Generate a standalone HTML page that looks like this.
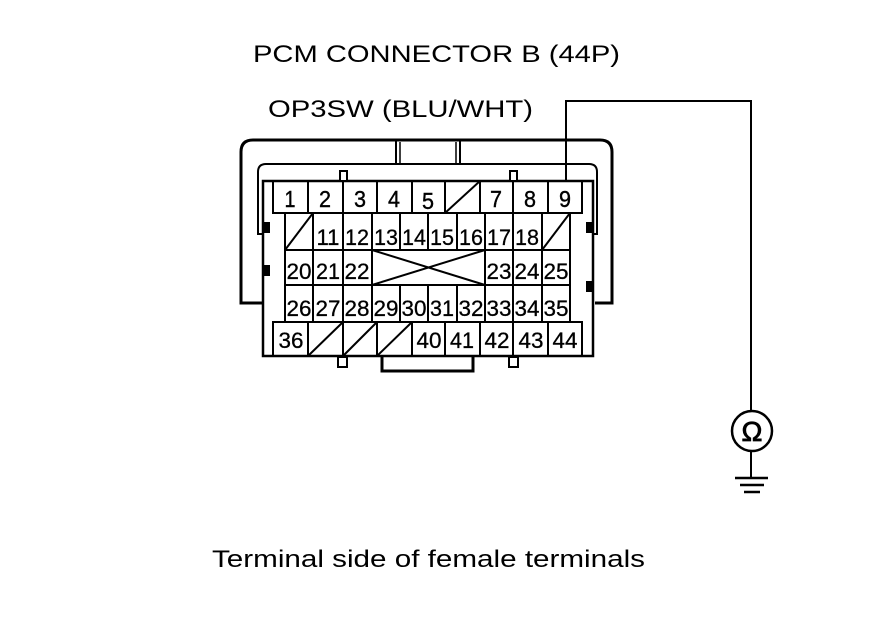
<!DOCTYPE html>
<html><head><meta charset="utf-8"><style>
html,body{margin:0;padding:0;background:#fff;}
svg{display:block;}
text{font-family:"Liberation Sans",Arial,sans-serif;fill:#000;}
</style></head><body>
<svg width="880" height="630" viewBox="0 0 880 630" xmlns="http://www.w3.org/2000/svg">
<text x="253" y="62" font-size="24" textLength="367" lengthAdjust="spacingAndGlyphs">PCM CONNECTOR B (44P)</text>
<text x="268" y="117" font-size="24" textLength="265" lengthAdjust="spacingAndGlyphs">OP3SW (BLU/WHT)</text>
<text x="212" y="567" font-size="24" textLength="433" lengthAdjust="spacingAndGlyphs">Terminal side of female terminals</text>

<g fill="none" stroke="#000">
<polyline points="566,182 566,101 751,101 751,411" stroke-width="2"/>
<circle cx="752" cy="431" r="20" stroke-width="2.5"/>
<line x1="751" y1="451" x2="751" y2="478" stroke-width="2"/>
<line x1="735" y1="478" x2="768" y2="478" stroke-width="2.5"/>
<line x1="740" y1="485" x2="764" y2="485" stroke-width="2.5"/>
<line x1="744" y1="492" x2="760" y2="492" stroke-width="2.5"/>

<path d="M262,303 H241 V152 Q241,140 253,140 H600 Q612,140 612,152 V303 H595" stroke-width="3"/>
<polyline points="396,164 396,140" stroke-width="2"/>
<polyline points="460,164 460,140" stroke-width="2"/>
<polyline points="400,164 400,142" stroke-width="1.5"/>
<polyline points="456,164 456,142" stroke-width="1.5"/>
<path d="M262,234 H258 V172 Q258,164 266,164 H589 Q597,164 597,172 V234 H593" stroke-width="2"/>
<rect x="263" y="181" width="330" height="175" stroke-width="2.5"/>
<polyline points="382,356 382,371 473,371 473,356" stroke-width="3"/>
</g>
<g fill="#fff" stroke="#000" stroke-width="2">
<rect x="340" y="171" width="7" height="10"/>
<rect x="510" y="171" width="7" height="10"/>
<rect x="338" y="357" width="9" height="10"/>
<rect x="509" y="357" width="9" height="10"/>
</g>
<g fill="#000">
<rect x="262" y="222" width="8" height="11"/>
<rect x="262" y="265" width="8" height="11"/>
<rect x="586" y="222" width="8" height="11"/>
<rect x="586" y="281" width="8" height="11"/>
</g>

<g fill="none" stroke="#000" stroke-width="2">
<rect x="273" y="181" width="309" height="32"/>
<path d="M308,181V213M343,181V213M377,181V213M412,181V213M445,181V213M480,181V213M513,181V213M548,181V213"/>
<line x1="445" y1="213" x2="480" y2="181"/>
<rect x="285" y="213" width="285" height="109"/>
<line x1="285" y1="250" x2="570" y2="250"/>
<line x1="285" y1="285" x2="570" y2="285"/>
<path d="M313,213V322M343,213V322M372,213V322M485,213V322M513,213V322M542,213V322"/>
<path d="M400,213V250M428,213V250M457,213V250M400,285V322M428,285V322M457,285V322"/>
<line x1="285" y1="250" x2="313" y2="213"/>
<line x1="542" y1="250" x2="570" y2="213"/>
<line x1="372" y1="250" x2="485" y2="285"/>
<line x1="372" y1="285" x2="485" y2="250"/>
<rect x="273" y="322" width="309" height="34"/>
<path d="M308,322V356M343,322V356M377,322V356M412,322V356M445,322V356M480,322V356M513,322V356M548,322V356"/>
<line x1="308" y1="356" x2="343" y2="322"/>
<line x1="343" y1="356" x2="377" y2="322"/>
<line x1="377" y1="356" x2="412" y2="322"/>
</g>

<g font-size="23" text-anchor="middle" stroke="#000" stroke-width="0.4">
<text x="290" y="207" textLength="11" lengthAdjust="spacingAndGlyphs">1</text><text x="325" y="207" textLength="12" lengthAdjust="spacingAndGlyphs">2</text><text x="360" y="207" textLength="12" lengthAdjust="spacingAndGlyphs">3</text><text x="394" y="207" textLength="12" lengthAdjust="spacingAndGlyphs">4</text><text x="428" y="209" textLength="12" lengthAdjust="spacingAndGlyphs">5</text><text x="496" y="207" textLength="12" lengthAdjust="spacingAndGlyphs">7</text><text x="530" y="207" textLength="12" lengthAdjust="spacingAndGlyphs">8</text><text x="565" y="207" textLength="12" lengthAdjust="spacingAndGlyphs">9</text>
</g>
<g font-size="22" text-anchor="middle" stroke="#000" stroke-width="0.3">
<text x="328" y="245" textLength="23" lengthAdjust="spacingAndGlyphs">11</text><text x="357" y="245" textLength="24" lengthAdjust="spacingAndGlyphs">12</text><text x="386" y="245" textLength="24" lengthAdjust="spacingAndGlyphs">13</text><text x="414" y="245" textLength="24" lengthAdjust="spacingAndGlyphs">14</text><text x="442" y="245" textLength="24" lengthAdjust="spacingAndGlyphs">15</text><text x="471" y="245" textLength="24" lengthAdjust="spacingAndGlyphs">16</text><text x="499" y="245" textLength="24" lengthAdjust="spacingAndGlyphs">17</text><text x="527" y="245" textLength="24" lengthAdjust="spacingAndGlyphs">18</text>
<text x="299" y="279" textLength="25" lengthAdjust="spacingAndGlyphs">20</text><text x="328" y="279" textLength="24" lengthAdjust="spacingAndGlyphs">21</text><text x="357" y="279" textLength="25" lengthAdjust="spacingAndGlyphs">22</text><text x="499" y="279" textLength="25" lengthAdjust="spacingAndGlyphs">23</text><text x="527" y="279" textLength="25" lengthAdjust="spacingAndGlyphs">24</text><text x="556" y="279" textLength="25" lengthAdjust="spacingAndGlyphs">25</text>
<text x="299" y="316" textLength="25" lengthAdjust="spacingAndGlyphs">26</text><text x="328" y="316" textLength="25" lengthAdjust="spacingAndGlyphs">27</text><text x="357" y="316" textLength="25" lengthAdjust="spacingAndGlyphs">28</text><text x="386" y="316" textLength="25" lengthAdjust="spacingAndGlyphs">29</text><text x="414" y="316" textLength="25" lengthAdjust="spacingAndGlyphs">30</text><text x="442" y="316" textLength="24" lengthAdjust="spacingAndGlyphs">31</text><text x="471" y="316" textLength="25" lengthAdjust="spacingAndGlyphs">32</text><text x="499" y="316" textLength="25" lengthAdjust="spacingAndGlyphs">33</text><text x="527" y="316" textLength="25" lengthAdjust="spacingAndGlyphs">34</text><text x="556" y="316" textLength="25" lengthAdjust="spacingAndGlyphs">35</text>
<text x="291" y="348" textLength="25" lengthAdjust="spacingAndGlyphs">36</text><text x="429" y="348" textLength="25" lengthAdjust="spacingAndGlyphs">40</text><text x="462" y="348" textLength="24" lengthAdjust="spacingAndGlyphs">41</text><text x="497" y="348" textLength="25" lengthAdjust="spacingAndGlyphs">42</text><text x="531" y="348" textLength="25" lengthAdjust="spacingAndGlyphs">43</text><text x="565" y="348" textLength="25" lengthAdjust="spacingAndGlyphs">44</text>
</g>
<text x="752" y="441" font-size="28" text-anchor="middle" stroke="#000" stroke-width="0.8" font-family="DejaVu Sans, sans-serif">Ω</text>
</svg>
</body></html>
